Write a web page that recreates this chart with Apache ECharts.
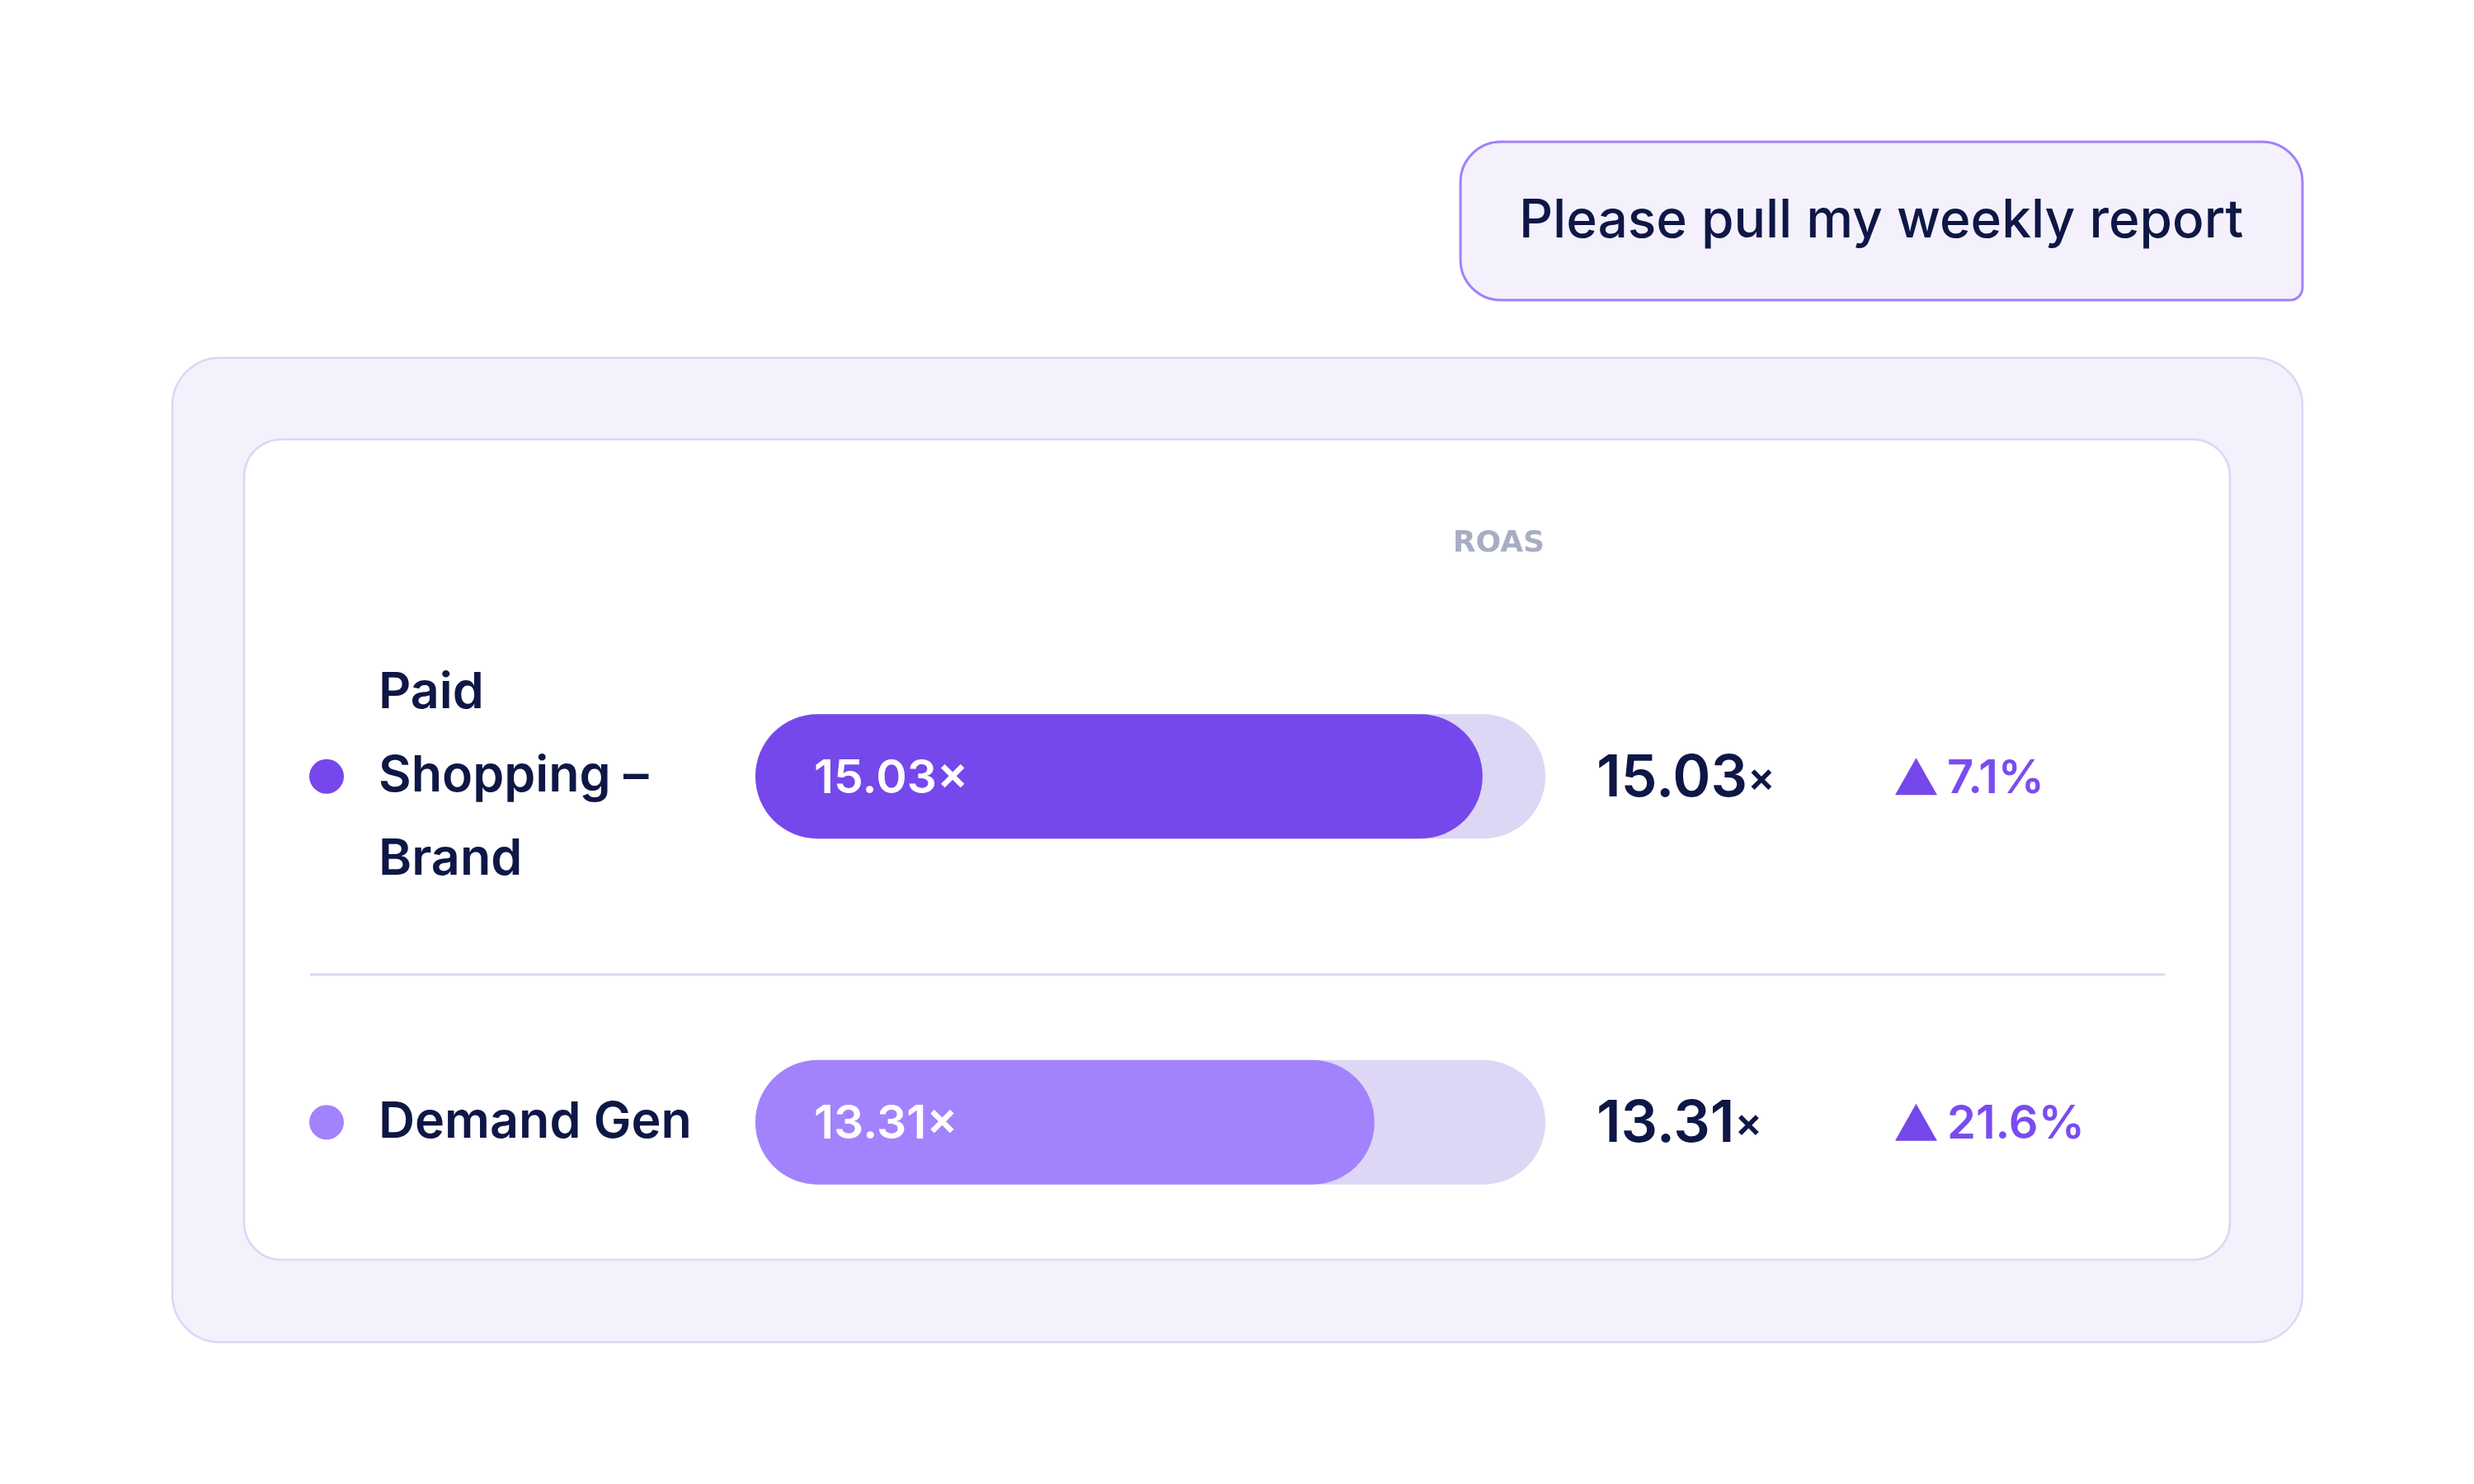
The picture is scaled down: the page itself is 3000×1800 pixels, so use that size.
<!DOCTYPE html>
<html>
<head>
<meta charset="utf-8">
<style>
  html, body { margin: 0; padding: 0; background: #ffffff; }
  #chart { width: 3000px; height: 1800px; }
</style>
<script src="https://cdn.jsdelivr.net/npm/echarts@6/dist/echarts.min.js"></script>
</head>
<body>
<div id="chart"></div>
<script>
// ---- data ----
const categories = ['Paid\nShopping –\nBrand', 'Demand Gen'];
const roasValues = [15.03, 13.31];
const changePct = [7.1, 21.6];
const seriesColors = ['#7548EB', '#A382FD'];
const promptText = 'Please pull my weekly report';
const metricName = 'ROAS';
const axisMin = 3.46;
const axisMax = 16.03;

const FONT = 'Inter, "Noto Sans", sans-serif';
const NAVY = '#0E1745';

const chart = echarts.init(document.getElementById('chart'), null, { renderer: 'canvas' });

const option = {
  backgroundColor: '#ffffff',
  animation: false,
  graphic: [
    // chat bubble
    { type: 'rect', z: 0, shape: { x: 1771, y: 172, width: 1021, height: 192, r: [49, 49, 15, 49] },
      style: { fill: '#F4F1FD', stroke: '#A280F9', lineWidth: 3 } },
    { type: 'text', z: 1, style: { x: 1842, y: 269, text: promptText, fill: NAVY,
      font: '500 64px ' + FONT, textVerticalAlign: 'middle', textAlign: 'left' } },
    // outer card
    { type: 'rect', z: 0, shape: { x: 209, y: 434, width: 2583, height: 1194, r: 58 },
      style: { fill: '#F4F1FD', stroke: '#DDD6F4', lineWidth: 2.5 } },
    // inner card
    { type: 'rect', z: 0, shape: { x: 296, y: 533, width: 2408, height: 995, r: 45 },
      style: { fill: '#FFFFFF', stroke: '#DDD6F4', lineWidth: 2.5 } },
    // header
    { type: 'text', z: 1, style: { x: 1873, y: 660, text: metricName, fill: '#A8ADC4',
      font: 'bold 36px "DejaVu Sans", sans-serif', textAlign: 'right', textVerticalAlign: 'middle' } },
    // divider
    { type: 'line', z: 1, shape: { x1: 376, y1: 1182, x2: 2625, y2: 1182 },
      style: { stroke: '#DDD6F4', lineWidth: 3 } }
  ],
  grid: { left: 916, right: 1126, top: 732, bottom: 229, containLabel: false },
  xAxis: {
    type: 'value', min: axisMin, max: axisMax,
    show: false
  },
  yAxis: {
    type: 'category', data: categories, inverse: true,
    axisLine: { show: false }, axisTick: { show: false }, splitLine: { show: false },
    axisLabel: {
      align: 'left', margin: 457, color: NAVY, fontFamily: FONT,
      fontSize: 61, fontWeight: 600, lineHeight: 101, padding: [11, 0, 0, 0]
    }
  },
  series: [{
    type: 'custom',
    coordinateSystem: 'cartesian2d',
    encode: { x: 0, y: 1 },
    data: roasValues.map((v, i) => [v, i, changePct[i]]),
    z: 5,
    renderItem: function (params, api) {
      const v = api.value(0);
      const idx = api.value(1);
      const pct = api.value(2);
      const s = api.coord([axisMin, idx]);
      const e = api.coord([axisMax, idx]);
      const f = api.coord([v, idx]);
      const h = 151;
      const cy = s[1];
      const ty = cy + 3;
      const y = cy - h / 2;
      const color = seriesColors[params.dataIndex];
      const triX = e[0] + 424, triW = 51, triH = 45;
      return {
        type: 'group',
        children: [
          { type: 'circle', shape: { cx: s[0] - 520, cy: cy, r: 21 }, style: { fill: color } },
          { type: 'rect', shape: { x: s[0], y: y, width: e[0] - s[0], height: h, r: h / 2 },
            style: { fill: '#DDD6F5' } },
          { type: 'rect', shape: { x: s[0], y: y, width: f[0] - s[0], height: h, r: h / 2 },
            style: { fill: color } },
          { type: 'text', style: { x: s[0] + 71, y: ty, text: v.toFixed(2) + '×', fill: '#FFFFFF',
            font: '600 57px ' + FONT, textAlign: 'left', textVerticalAlign: 'middle' } },
          { type: 'text', style: { x: e[0] + 62, y: ty,
            text: '{n|' + v.toFixed(2) + '}{x|×}',
            textAlign: 'left', textVerticalAlign: 'middle',
            rich: {
              n: { fill: NAVY, font: '600 70px ' + FONT, verticalAlign: 'middle' },
              x: { fill: NAVY, font: '600 50px ' + FONT, verticalAlign: 'middle' }
            } } },
          { type: 'polygon', shape: { points: [[triX, cy + triH / 2], [triX + triW / 2, cy - triH / 2], [triX + triW, cy + triH / 2]] },
            style: { fill: '#7548EB' } },
          { type: 'text', style: { x: e[0] + 487, y: ty, text: pct.toFixed(1) + '%', fill: '#7A4CF0',
            font: '600 56px ' + FONT, textAlign: 'left', textVerticalAlign: 'middle' } }
        ]
      };
    }
  }]
};

chart.setOption(option);
</script>
</body>
</html>
